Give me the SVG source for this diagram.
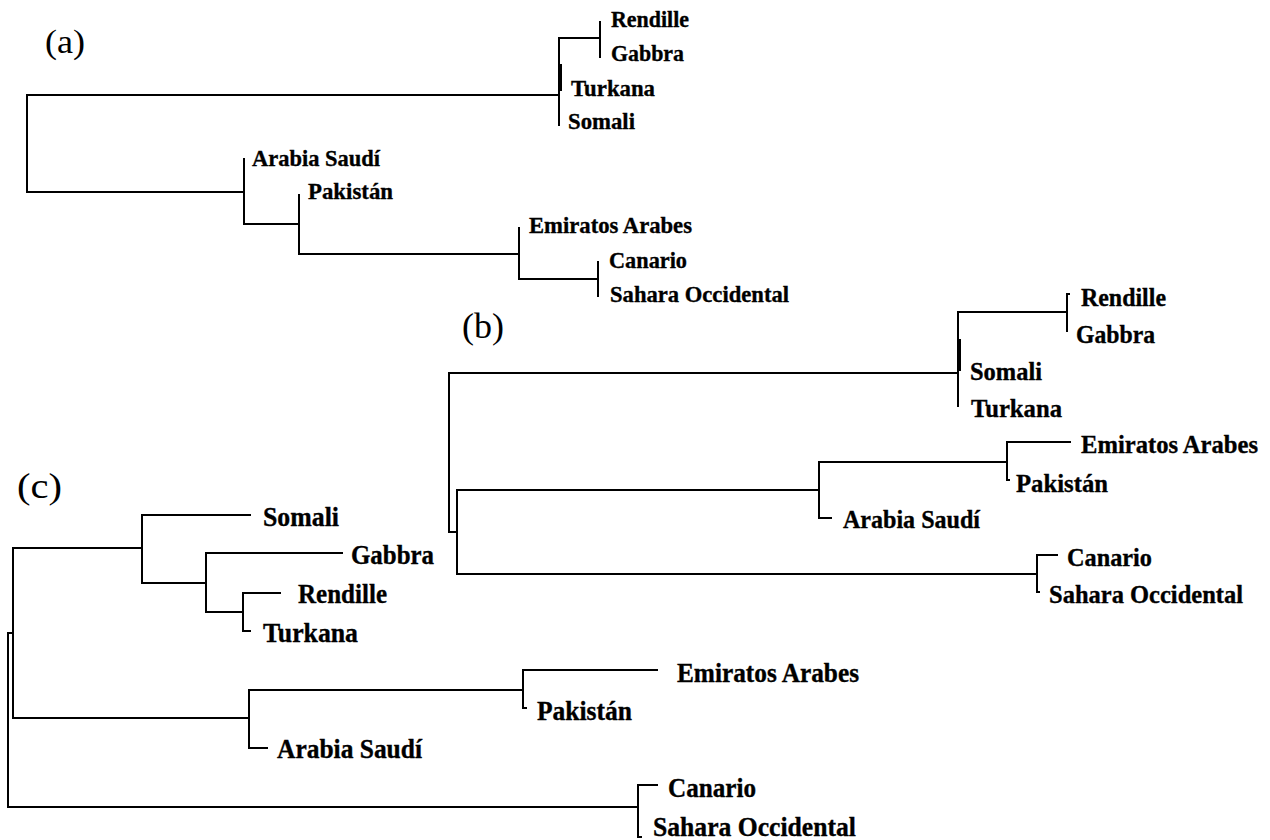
<svg xmlns="http://www.w3.org/2000/svg" width="1270" height="840" viewBox="0 0 1270 840">
<style>
.e{fill:none;stroke:#000;stroke-width:2;stroke-linecap:square}
.t{font-family:"Liberation Serif","Times New Roman",serif;font-weight:bold;fill:#000;stroke:#000;stroke-width:0.35}
.a{font-size:23.5px}
.b{font-size:25.5px}
.c{font-size:26.5px}
.p{font-family:"Liberation Serif","Times New Roman",serif;font-weight:normal;fill:#000}
</style>
<rect width="1270" height="840" fill="#fff"/>
<g id="connectors">
<!-- tree a -->
<path class="e" d="M27,95V192M27,95H559M27,192H244"/>
<path class="e" d="M559,38V125M559,38H600M600,22V57M561,65V90"/>
<path class="e" d="M244,159V224M244,224H299M299,195V254M299,254H519M519,228V279M519,279H598M598,262V296"/>
<!-- tree b -->
<path class="e" d="M449,373V532M449,373H958M449,532H457"/>
<path class="e" d="M958,312V406M960,340V370M958,312H1067M1067,294V331M1067,294H1069"/>
<path class="e" d="M457,490V574M457,490H819M457,574H1037"/>
<path class="e" d="M819,462V518M819,462H1007M819,518H831M1007,442V480M1007,442H1070M1007,480H1009"/>
<path class="e" d="M1037,555V592M1037,555H1057M1037,592H1039"/>
<!-- tree c -->
<path class="e" d="M8,633V807M8,633H13M8,807H638"/>
<path class="e" d="M13,548V718M13,548H142M13,718H249"/>
<path class="e" d="M142,515V583M142,515H250M142,583H206"/>
<path class="e" d="M206,553V612M206,553H342M206,612H243"/>
<path class="e" d="M243,593V631M243,593H280M243,631H250"/>
<path class="e" d="M249,690V748M249,690H523M249,748H267"/>
<path class="e" d="M523,670V708M523,670H657M523,708H526"/>
<path class="e" d="M638,785V837M638,785H657M638,837H641"/>
</g>
<g id="label-a"><text class="p" x="45" y="53" font-size="33" textLength="40" lengthAdjust="spacingAndGlyphs">(a)</text></g>
<g id="label-b"><text class="p" x="462" y="338" font-size="36" textLength="42" lengthAdjust="spacingAndGlyphs">(b)</text></g>
<g id="label-c"><text class="p" x="17" y="498" font-size="36" textLength="45" lengthAdjust="spacingAndGlyphs">(c)</text></g>
<!-- tree a leaves -->
<g id="a-rendille"><text class="t a" x="611" y="27" textLength="78" lengthAdjust="spacingAndGlyphs">Rendille</text></g>
<g id="a-gabbra"><text class="t a" x="611" y="61" textLength="73" lengthAdjust="spacingAndGlyphs">Gabbra</text></g>
<g id="a-turkana"><text class="t a" x="571" y="96" textLength="84" lengthAdjust="spacingAndGlyphs">Turkana</text></g>
<g id="a-somali"><text class="t a" x="568" y="129" textLength="67" lengthAdjust="spacingAndGlyphs">Somali</text></g>
<g id="a-arabia"><text class="t a" x="252" y="166" textLength="128" lengthAdjust="spacingAndGlyphs">Arabia Saudí</text></g>
<g id="a-pakistan"><text class="t a" x="308" y="199" textLength="85" lengthAdjust="spacingAndGlyphs">Pakistán</text></g>
<g id="a-emiratos"><text class="t a" x="529" y="233" textLength="163" lengthAdjust="spacingAndGlyphs">Emiratos Arabes</text></g>
<g id="a-canario"><text class="t a" x="609" y="268" textLength="78" lengthAdjust="spacingAndGlyphs">Canario</text></g>
<g id="a-sahara"><text class="t a" x="610" y="302" textLength="179" lengthAdjust="spacingAndGlyphs">Sahara Occidental</text></g>
<!-- tree b leaves -->
<g id="b-rendille"><text class="t b" x="1081" y="306" textLength="85" lengthAdjust="spacingAndGlyphs">Rendille</text></g>
<g id="b-gabbra"><text class="t b" x="1076" y="343" textLength="79" lengthAdjust="spacingAndGlyphs">Gabbra</text></g>
<g id="b-somali"><text class="t b" x="970" y="380" textLength="72" lengthAdjust="spacingAndGlyphs">Somali</text></g>
<g id="b-turkana"><text class="t b" x="971" y="417" textLength="91" lengthAdjust="spacingAndGlyphs">Turkana</text></g>
<g id="b-emiratos"><text class="t b" x="1081" y="453" textLength="177" lengthAdjust="spacingAndGlyphs">Emiratos Arabes</text></g>
<g id="b-pakistan"><text class="t b" x="1016" y="492" textLength="92" lengthAdjust="spacingAndGlyphs">Pakistán</text></g>
<g id="b-arabia"><text class="t b" x="843" y="528" textLength="137" lengthAdjust="spacingAndGlyphs">Arabia Saudí</text></g>
<g id="b-canario"><text class="t b" x="1067" y="566" textLength="85" lengthAdjust="spacingAndGlyphs">Canario</text></g>
<g id="b-sahara"><text class="t b" x="1049" y="603" textLength="194" lengthAdjust="spacingAndGlyphs">Sahara Occidental</text></g>
<!-- tree c leaves -->
<g id="c-somali"><text class="t c" x="263" y="526" textLength="76" lengthAdjust="spacingAndGlyphs">Somali</text></g>
<g id="c-gabbra"><text class="t c" x="351" y="564" textLength="83" lengthAdjust="spacingAndGlyphs">Gabbra</text></g>
<g id="c-rendille"><text class="t c" x="298" y="603" textLength="89" lengthAdjust="spacingAndGlyphs">Rendille</text></g>
<g id="c-turkana"><text class="t c" x="263" y="642" textLength="95" lengthAdjust="spacingAndGlyphs">Turkana</text></g>
<g id="c-emiratos"><text class="t c" x="677" y="682" textLength="182" lengthAdjust="spacingAndGlyphs">Emiratos Arabes</text></g>
<g id="c-pakistan"><text class="t c" x="537" y="720" textLength="95" lengthAdjust="spacingAndGlyphs">Pakistán</text></g>
<g id="c-arabia"><text class="t c" x="277" y="758" textLength="145" lengthAdjust="spacingAndGlyphs">Arabia Saudí</text></g>
<g id="c-canario"><text class="t c" x="668" y="797" textLength="88" lengthAdjust="spacingAndGlyphs">Canario</text></g>
<g id="c-sahara"><text class="t c" x="653" y="836" textLength="203" lengthAdjust="spacingAndGlyphs">Sahara Occidental</text></g>
</svg>
